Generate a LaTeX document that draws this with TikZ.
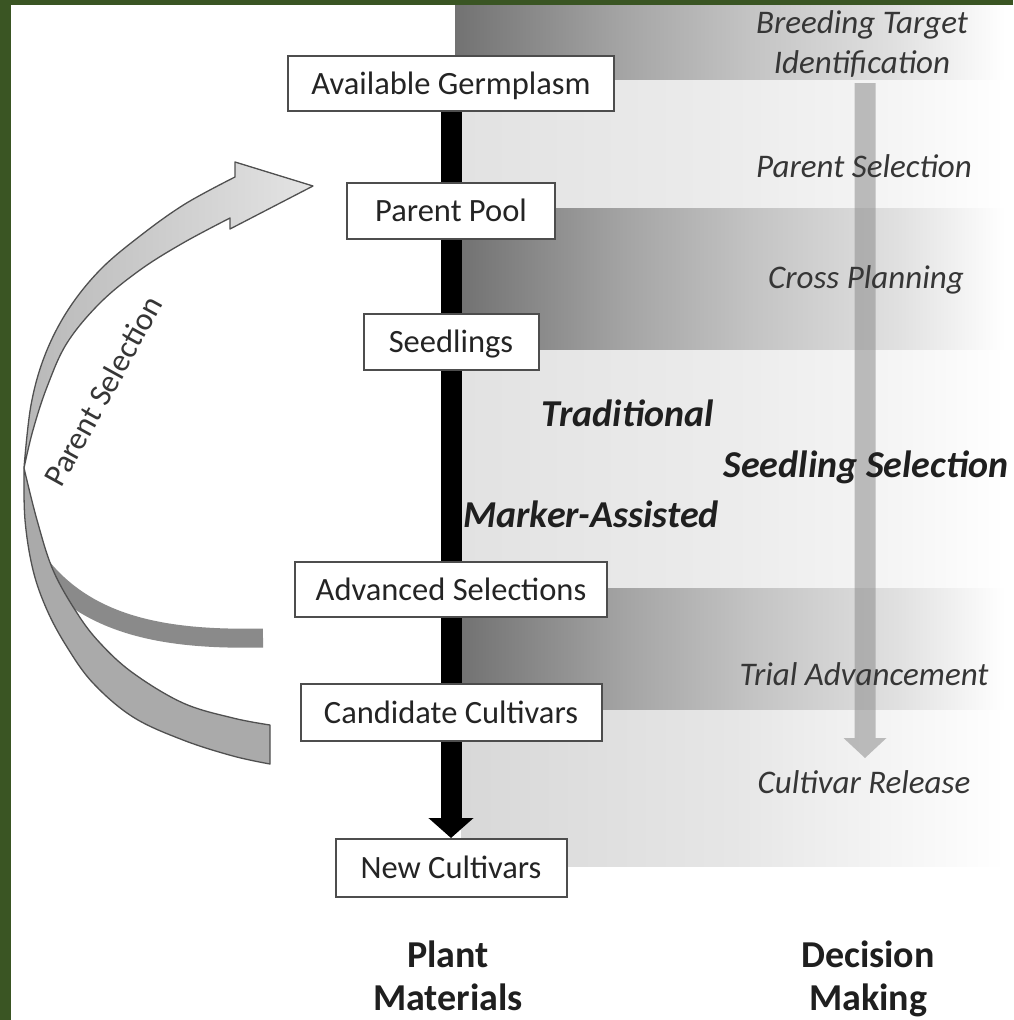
\documentclass[tikz,border=0pt]{standalone}
\usepackage{fontspec}
\setmainfont{Carlito}
\usetikzlibrary{arrows.meta,calc}
\definecolor{greenbd}{HTML}{3A5523}
\definecolor{boxline}{HTML}{4D4D4D}
\definecolor{boxtext}{HTML}{242424}
\definecolor{stagetext}{HTML}{363636}
\definecolor{dk0}{HTML}{727272}
\definecolor{dk1}{HTML}{A4A4A4}
\definecolor{dk2}{HTML}{C4C4C4}
\definecolor{dk3}{HTML}{E0E0E0}
\definecolor{lt0}{HTML}{E2E2E2}
\definecolor{lt1}{HTML}{ECECEC}
\definecolor{lt2}{HTML}{F5F5F5}
\definecolor{lb0}{HTML}{D8D8D8}
\definecolor{lb1}{HTML}{E6E6E6}
\definecolor{upl}{HTML}{B8B8B8}
\definecolor{upr}{HTML}{E4E4E4}
\definecolor{lowfill}{HTML}{AAAAAA}
\definecolor{darkstrip}{HTML}{8A8A8A}
\definecolor{arrowedge}{HTML}{505050}
\pgfdeclarehorizontalshading{darkshade}{100bp}{color(0bp)=(dk0); color(25bp)=(dk0); color(40bp)=(dk1); color(52bp)=(dk2); color(65bp)=(dk3); color(75bp)=(white); color(100bp)=(white)}
\pgfdeclarehorizontalshading{lightshade}{100bp}{color(0bp)=(lt0); color(25bp)=(lt0); color(50bp)=(lt1); color(65bp)=(lt2); color(75bp)=(white); color(100bp)=(white)}
\pgfdeclarehorizontalshading{lightshadeb}{100bp}{color(0bp)=(lb0); color(25bp)=(lb0); color(50bp)=(lb1); color(65bp)=(lt2); color(75bp)=(white); color(100bp)=(white)}
\pgfdeclarelayer{back}
\pgfdeclarelayer{barlayer}
\pgfsetlayers{back,barlayer,main}
\begin{document}
\begin{tikzpicture}[x=1pt,y=-1pt,
  box/.style={draw=boxline,line width=2pt,fill=white,inner sep=0pt,text=boxtext,
    font=\fontsize{32.5}{38}\selectfont,text height=21pt,text depth=0pt},
  stage/.style={anchor=base,text=stagetext,inner sep=0pt,font=\fontsize{33}{38}\selectfont\itshape},
  method/.style={anchor=base,text=black!88,inner sep=0pt,font=\fontsize{38}{44}\selectfont\bfseries\itshape},
  heading/.style={anchor=base,text=black!88,inner sep=0pt,font=\fontsize{38}{44}\selectfont\bfseries},
  arrowline/.style={draw=arrowedge,line width=1.3pt,line join=round},
  garrow/.style={fill=black!45,fill opacity=0.55},
  mainbar/.style={line width=21pt,draw=black,-{Triangle[width=44pt,length=20pt]}}
]
\useasboundingbox (0,0) rectangle (1013,1020);
\begin{pgfonlayer}{back}
\fill[white] (0,0) rectangle (1013,1020);
\fill[greenbd] (0,0) rectangle (1013,5);
\fill[greenbd] (0,0) rectangle (11,1020);
% shaded bands
\shade[shading=darkshade] (455,5) rectangle (1005,80);
\shade[shading=lightshade] (461,80) rectangle (1005,208);
\shade[shading=darkshade] (461,208) rectangle (1005,350);
\shade[shading=lightshade] (461,350) rectangle (1005,588);
\shade[shading=darkshade] (461,588) rectangle (1005,710);
\shade[shading=lightshadeb] (461,710) rectangle (1005,866);
% gray decision arrow
\coordinate (ga1) at (865,83);
\coordinate (ga2) at (865,758);
\fill[garrow] ($(ga1)+(-10.5,0)$) -- ($(ga2)+(-10.5,-20)$) -- ($(ga2)+(-21.5,-20)$) -- (ga2)
  -- ($(ga2)+(21.5,-20)$) -- ($(ga2)+(10.5,-20)$) -- ($(ga1)+(10.5,0)$) -- cycle;
\end{pgfonlayer}

% boxes
\node[box,minimum width=326pt,minimum height=55pt] (ag) at (451,83.5) {Available Germplasm};
\node[box,minimum width=208pt,minimum height=56pt] (pp) at (451,211) {Parent Pool};
\node[box,minimum width=175pt,minimum height=56pt] (sd) at (451,342) {Seedlings};
\node[box,minimum width=312pt,minimum height=55pt] (as) at (451,589.5) {Advanced Selections};
\node[box,minimum width=301pt,minimum height=57pt] (cc) at (451,712.5) {Candidate Cultivars};
\node[box,minimum width=231pt,minimum height=58pt] (nc) at (451,868) {New Cultivars};

% main black arrow behind boxes
\begin{pgfonlayer}{barlayer}
\draw[mainbar] (ag.south) -- (nc.north);
\end{pgfonlayer}

% stage labels
\node[stage] (bt1) at (862,33) {Breeding Target};
\node[stage] (bt2) at (862,73) {Identification};
\node[stage] (psel) at (864,177) {Parent Selection};
\node[stage] (cpl) at (866,288) {Cross Planning};
\node[stage] (tadv) at (864,685) {Trial Advancement};
\node[stage] (crel) at (864,793) {Cultivar Release};

\node[method] (trad) at (628,426) {Traditional};
\node[method] (ssel) at (866,477) {Seedling Selection};
\node[method] (mas) at (591,527) {Marker-Assisted};

\node[heading] (pl1) at (448,967) {Plant};
\node[heading] (pl2) at (448,1010) {Materials};
\node[heading] (dm1) at (868,967) {Decision};
\node[heading] (dm2) at (868,1010) {Making};

% curved parent selection arrow
\draw[line width=19pt,draw=darkstrip] (40,565) .. controls (90,628) and (170,640) .. (263,638);
\draw[arrowline,fill=lowfill]
  plot[smooth,tension=0.6] coordinates {(24,468) (25,520) (33,570) (47,610) (67,647) (93,683) (133,717) (183,740) (233,756) (270,764)}
  -- (270,725)
  -- plot[smooth,tension=0.6] coordinates {(270,725) (233,718) (183,703) (133,673) (100,643) (77,613) (53,570) (37,520) (24,468)}
  -- cycle;
\draw[arrowline,left color=upl,right color=upr]
  plot[smooth,tension=0.6] coordinates {(24,468) (31,405) (45,355) (68,310) (100,270) (140,236) (185,204) (235,177)}
  -- (235,162) -- (313,186) -- (230,229) -- (230,218)
  -- plot[smooth,tension=0.6] coordinates {(230,218) (183,243) (140,270) (100,303) (67,343) (47,387) (33,430) (24,468)}
  -- cycle;
\node[text=stagetext,inner sep=0pt,rotate=61,font=\fontsize{32}{38}\selectfont] (lbl) at (103,391) {Parent Selection};
\end{tikzpicture}
\end{document}
